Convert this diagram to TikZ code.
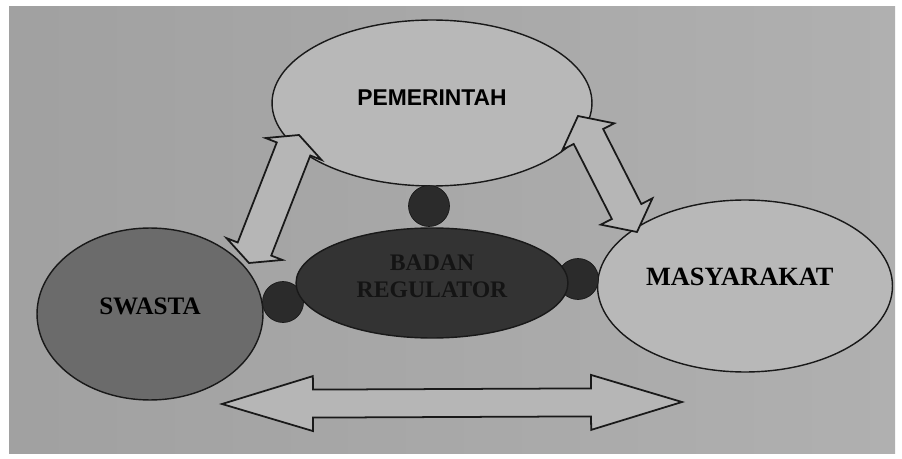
\documentclass[tikz,border=0pt]{standalone}
\usepackage{fontspec}
\setmainfont{Liberation Serif}
\newfontfamily\pemfont{Liberation Sans}
\usetikzlibrary{calc,shapes.geometric}

\definecolor{latarkiri}{gray}{0.63}
\definecolor{latarkanan}{gray}{0.69}
\definecolor{terang}{gray}{0.72}
\definecolor{swasta}{gray}{0.42}
\definecolor{gelap}{gray}{0.20}
\definecolor{garis}{gray}{0.10}

\tikzset{
	elips/.style={ellipse,draw=garis,line width=0.8pt,inner sep=0pt},
	teks/.style={inner sep=0pt,text=black,font=\bfseries\fontsize{15}{17}\selectfont},
	panah/.style={draw=garis,fill=terang!102,line width=1pt,line join=miter}
}

% block arrow between two tips: #3 shaft half width, #4 head half width, #5 head length
\newcommand{\panahblok}[5]{%
	\path ($(#1)!#5!(#2)$) coordinate (pb1) ($(#2)!#5!(#1)$) coordinate (pb2);
	\draw[panah] (#1) -- ($(pb1)!#4!90:(#1)$) -- ($(pb1)!#3!90:(#1)$) -- ($(pb2)!#3!-90:(#2)$) -- ($(pb2)!#4!-90:(#2)$)
		-- (#2) -- ($(pb2)!#4!90:(#2)$) -- ($(pb2)!#3!90:(#2)$) -- ($(pb1)!#3!-90:(#1)$) -- ($(pb1)!#4!-90:(#1)$) -- cycle;}

\begin{document}
\begin{tikzpicture}[x=0.02cm,y=-0.02cm]
	\useasboundingbox (0,0) rectangle (902,459);
	\fill[white] (0,0) rectangle (902,459);
	\shade[left color=latarkiri,right color=latarkanan] (9,7) rectangle (895,453);

	\node[elips,fill=terang,minimum width=6.4cm,minimum height=3.32cm,
		label={[teks,font=\pemfont\bfseries\fontsize{13}{15}\selectfont,yshift=3pt]center:PEMERINTAH}] (pem) at (432,103) {};
	\node[elips,fill=swasta,minimum width=4.52cm,minimum height=3.44cm,
		label={[teks,font=\bfseries\fontsize{14.3}{16}\selectfont,yshift=4.5pt]center:SWASTA}] (swas) at (150,314) {};
	\node[elips,fill=terang,minimum width=5.9cm,minimum height=3.44cm,
		label={[teks,xshift=-3pt,yshift=5pt]center:MASYARAKAT}] (masy) at (745,286) {};

	\begin{scope}[every node/.style={circle,fill=gelap!85!black,draw=garis,minimum size=0.82cm,inner sep=0pt}]
		\node (titik-atas) at (429,206) {};
		\node (titik-kiri) at (283,302) {};
		\node (titik-kanan) at (578,279) {};
	\end{scope}

	\node[elips,fill=gelap,minimum width=5.44cm,minimum height=2.2cm,
		label={[teks,align=center,text=black!92,font=\bfseries\fontsize{13.5}{15.3}\selectfont,yshift=4pt]center:{BADAN\\REGULATOR}}] (badan) at (432,283) {};

	% ujung panah
	\coordinate (kiri-a) at (299,135);
	\coordinate (kiri-b) at (249,263);
	\coordinate (kanan-a) at (578,116);
	\coordinate (kanan-b) at (637,232);
	\coordinate (bawah-a) at (222,404);
	\coordinate (bawah-b) at (682,402);

	\panahblok{kiri-a}{kiri-b}{0.36cm}{0.6cm}{0.3cm}
	\panahblok{kanan-a}{kanan-b}{0.33cm}{0.58cm}{0.46cm}
	\panahblok{bawah-a}{bawah-b}{0.28cm}{0.55cm}{1.82cm}
\end{tikzpicture}
\end{document}
